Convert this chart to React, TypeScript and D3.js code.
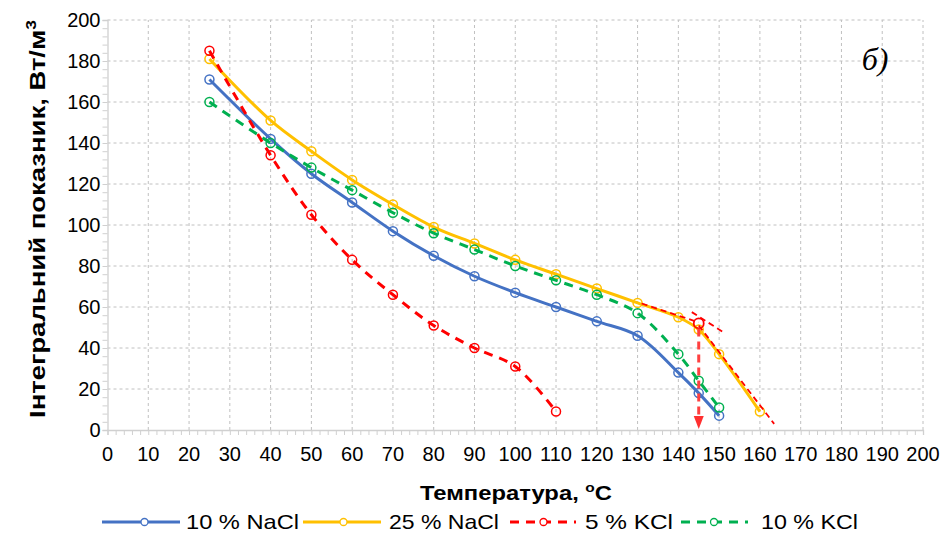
import React, { useEffect, useRef } from 'react';
import * as d3 from 'd3';

// temperatures, °C
const tempNaCl10 = [25, 40, 50, 60, 70, 80, 90, 100, 110, 120, 130, 140, 145, 150];
const valNaCl10 = [171, 142, 125, 111, 97, 85, 75, 67, 60, 53, 46, 28, 18, 7];

const tempNaCl25 = [25, 40, 50, 60, 70, 80, 90, 100, 110, 120, 130, 140, 145, 150, 160];
const valNaCl25 = [181, 151, 136, 122, 110, 99, 91, 83, 76, 69, 62, 55, 49, 37, 9];

const tempKCl5 = [25, 40, 50, 60, 70, 80, 90, 100, 110];
const valKCl5 = [185, 134, 105, 83, 66, 51, 40, 31, 9];

const tempKCl10 = [25, 40, 50, 60, 70, 80, 90, 100, 110, 120, 130, 140, 145, 150];
const valKCl10 = [160, 140, 128, 117, 106, 96, 88, 80, 73, 66, 57, 37, 24, 11];

const seriesNames = ['10 % NaCl', '25 % NaCl', '5 % KCl', '10 % KCl'];
const seriesColors = ['#4472C4', '#FFC000', '#FF0000', '#00B050'];
const seriesDashed = [false, false, true, true];

// graphical construction (tangents + point of inflection)
const tangentUpper = [[131, 61.7], [145, 52.5]];
const tangentLower = [[145, 51], [163.5, 3]];
const crossLine = [[143.3, 57.5], [150.8, 48]];
const markPoint = [145, 52];

const xTicks = d3.range(0, 201, 10);
const yTicks = d3.range(0, 201, 20);

const W = 944;
const H = 536;
const margin = { top: 20, right: 21, bottom: 106, left: 107.5 };

const App = () => {
  const svgRef = useRef<SVGSVGElement>(null);

  useEffect(() => {
    const svg = d3.select(svgRef.current);
    svg.selectAll('*').remove();

    const font = 'Arial, "Liberation Sans", sans-serif';
    const x = d3.scaleLinear().domain([0, 200]).range([margin.left, W - margin.right]);
    const y = d3.scaleLinear().domain([0, 200]).range([H - margin.bottom, margin.top]);

    // grid
    const grid = svg.append('g');
    grid.selectAll('line.v')
      .data(xTicks.slice(1))
      .enter().append('line')
      .attr('x1', d => x(d)).attr('x2', d => x(d))
      .attr('y1', y(0)).attr('y2', y(200))
      .attr('stroke', '#c0c0c0').attr('stroke-dasharray', '3,3');
    grid.selectAll('line.h')
      .data(yTicks.slice(1))
      .enter().append('line')
      .attr('x1', x(0)).attr('x2', x(200))
      .attr('y1', d => y(d)).attr('y2', d => y(d))
      .attr('stroke', '#c0c0c0').attr('stroke-dasharray', '3,3');

    // axes
    const xAxis = d3.axisBottom(x).tickValues(d3.range(0, 201, 2)).tickSize(5).tickFormat(() => '');
    const yAxis = d3.axisLeft(y).tickValues(d3.range(0, 201, 4)).tickSize(5).tickFormat(() => '');
    const gx = svg.append('g').attr('transform', `translate(0,${y(0)})`).call(xAxis);
    const gy = svg.append('g').attr('transform', `translate(${x(0)},0)`).call(yAxis);
    [gx, gy].forEach(g => {
      g.select('.domain').attr('stroke', '#d0d0d0').attr('stroke-width', 1.3);
      g.selectAll('.tick line').attr('stroke', '#d0d0d0');
    });

    svg.append('g').selectAll('text')
      .data(xTicks).enter().append('text')
      .attr('x', d => x(d)).attr('y', y(0) + 31)
      .attr('text-anchor', 'middle')
      .attr('font-family', font).attr('font-size', 20)
      .text(d => d);
    svg.append('g').selectAll('text')
      .data(yTicks).enter().append('text')
      .attr('x', x(0) - 7).attr('y', d => y(d) + 7)
      .attr('text-anchor', 'end')
      .attr('font-family', font).attr('font-size', 20)
      .text(d => d);

    // axis titles
    const yt = svg.append('text')
      .attr('transform', `translate(45,${(y(0) + y(200)) / 2 - 6}) rotate(-90)`)
      .attr('text-anchor', 'middle')
      .attr('textLength', 398).attr('lengthAdjust', 'spacingAndGlyphs')
      .attr('font-family', font).attr('font-size', 22).attr('font-weight', 'bold');
    yt.append('tspan').text('Інтегральний показник, Вт/м');
    yt.append('tspan').attr('font-size', 14).attr('dy', -9).text('3');

    const xt = svg.append('text')
      .attr('x', 516).attr('y', 500)
      .attr('text-anchor', 'middle')
      .attr('textLength', 192).attr('lengthAdjust', 'spacingAndGlyphs')
      .attr('font-family', font).attr('font-size', 20).attr('font-weight', 'bold');
    xt.append('tspan').text('Температура, ');
    xt.append('tspan').attr('font-size', 13).attr('dy', -8).text('o');
    xt.append('tspan').attr('dy', 8).text('C');

    // panel label
    svg.append('text')
      .attr('x', 875).attr('y', 70)
      .attr('text-anchor', 'middle')
      .attr('font-family', '"Liberation Serif", "Times New Roman", serif')
      .attr('font-style', 'italic').attr('font-size', 32)
      .text('б)');

    const temps = [tempNaCl10, tempNaCl25, tempKCl5, tempKCl10];
    const vals = [valNaCl10, valNaCl25, valKCl5, valKCl10];
    const line = d3.line<number[]>()
      .x(d => x(d[0])).y(d => y(d[1]))
      .curve(d3.curveCatmullRom.alpha(0.5));

    const plot = svg.append('g');
    temps.forEach((t, i) => {
      const pts = t.map((tt, j) => [tt, vals[i][j]]);
      plot.append('path')
        .attr('d', line(pts))
        .attr('fill', 'none')
        .attr('stroke', seriesColors[i])
        .attr('stroke-width', 3)
        .attr('stroke-dasharray', seriesDashed[i] ? '9,7' : null);
      plot.selectAll(null)
        .data(pts).enter().append('circle')
        .attr('cx', d => x(d[0])).attr('cy', d => y(d[1]))
        .attr('r', 4.5)
        .attr('fill', 'none')
        .attr('stroke', seriesColors[i])
        .attr('stroke-width', 1.5);
    });

    // construction lines
    const straight = d3.line<number[]>().x(d => x(d[0])).y(d => y(d[1]));
    [tangentUpper, tangentLower, crossLine].forEach(seg => {
      plot.append('path')
        .attr('d', straight(seg))
        .attr('fill', 'none')
        .attr('stroke', '#FF0000')
        .attr('stroke-width', 1.8)
        .attr('stroke-dasharray', '6,4');
    });
    plot.append('circle')
      .attr('cx', x(markPoint[0])).attr('cy', y(markPoint[1]))
      .attr('r', 5)
      .attr('fill', 'none').attr('stroke', '#FF0000').attr('stroke-width', 1.8);
    plot.append('line')
      .attr('x1', x(markPoint[0])).attr('x2', x(markPoint[0]))
      .attr('y1', y(markPoint[1]) + 5).attr('y2', y(0) - 12)
      .attr('stroke', '#FF4040').attr('stroke-width', 3)
      .attr('stroke-dasharray', '8,5');
    plot.append('path')
      .attr('d', `M${x(markPoint[0]) - 5},${y(0) - 14} L${x(markPoint[0]) + 5},${y(0) - 14} L${x(markPoint[0])},${y(0) - 1} Z`)
      .attr('fill', '#FF3030');

    // legend
    const legendX = [102, 303, 510, 681];
    const legendLineW = [78, 78, 66, 67];
    const legendMarkX = [144.5, 343.5, 543.5, 714];
    const legendTextX = [186, 389, 585, 761];
    const legendTextW = [113, 110, 88, 97];
    const lg = svg.append('g');
    seriesNames.forEach((name, i) => {
      const lx = legendX[i];
      const ly = 522;
      lg.append('line')
        .attr('x1', lx).attr('x2', lx + legendLineW[i])
        .attr('y1', ly).attr('y2', ly)
        .attr('stroke', seriesColors[i]).attr('stroke-width', 3)
        .attr('stroke-dasharray', seriesDashed[i] ? '9,7' : null);
      lg.append('circle')
        .attr('cx', legendMarkX[i]).attr('cy', ly).attr('r', 3.5)
        .attr('fill', '#fff').attr('stroke', seriesColors[i]).attr('stroke-width', 1.3);
      lg.append('text')
        .attr('x', legendTextX[i]).attr('y', ly + 7)
        .attr('textLength', legendTextW[i]).attr('lengthAdjust', 'spacingAndGlyphs')
        .attr('font-family', font).attr('font-size', 21)
        .text(name);
    });
  }, []);

  return (
    <div style={{ position: 'absolute', left: 0, top: 0, background: '#fff' }}>
      <svg ref={svgRef} width={W} height={H} />
    </div>
  );
};

export default App;
